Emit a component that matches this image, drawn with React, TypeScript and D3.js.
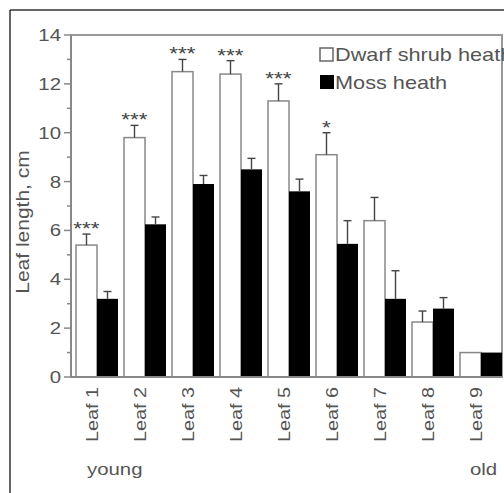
import React from "react";
import * as d3 from "d3";

const categories = ["Leaf 1", "Leaf 2", "Leaf 3", "Leaf 4", "Leaf 5", "Leaf 6", "Leaf 7", "Leaf 8", "Leaf 9"];
const dwarfValues = [5.4, 9.8, 12.5, 12.4, 11.3, 9.1, 6.4, 2.25, 1.0];
const dwarfErrors = [0.45, 0.5, 0.5, 0.55, 0.7, 0.9, 0.95, 0.45, 0];
const mossValues = [3.2, 6.25, 7.9, 8.5, 7.6, 5.45, 3.2, 2.8, 1.0];
const mossErrors = [0.3, 0.3, 0.35, 0.45, 0.5, 0.95, 1.15, 0.45, 0];
const stars = ["***", "***", "***", "***", "***", "*", "", "", ""];
const yTicks = [0, 2, 4, 6, 8, 10, 12, 14];
const yMinor = d3.range(0, 15);
const legendLabels = ["Dwarf shrub heath", "Moss heath"];

const TXT = "#555";
const FONT = "'Liberation Sans', Arial, sans-serif";
const SX = 1.2;

export default function App() {
  const W = 504, H = 493;
  const left = 71, right = 502, top = 35, bottom = 377;
  const y = d3.scaleLinear().domain([0, 14]).range([bottom, top]);
  const x = d3.scaleBand().domain(categories).range([73, 505]).paddingInner(0.125).paddingOuter(0.0625);
  const bw = x.bandwidth() / 2;

  const errBar = (cx: number, v: number, e: number, key: string) => {
    if (e <= 0) return null;
    return (
      <g key={key} stroke="#444" strokeWidth={1.4}>
        <line x1={cx} x2={cx} y1={y(v)} y2={y(v + e)} />
        <line x1={cx - 4} x2={cx + 4} y1={y(v + e)} y2={y(v + e)} />
      </g>
    );
  };

  return (
    <svg width={W} height={H} style={{ position: "absolute", left: 0, top: 0, background: "#fff" }} fontFamily={FONT}>
      {/* outer frame */}
      <line x1={10} x2={W} y1={10} y2={10} stroke="#333" strokeWidth={1.5} />
      <line x1={10} x2={10} y1={10} y2={H} stroke="#333" strokeWidth={1.5} />

      {/* plot frame */}
      <rect x={left} y={top} width={right - left} height={bottom - top} fill="none" stroke="#999" strokeWidth={2} />

      {/* bars */}
      {categories.map((c, i) => {
        const x0 = x(c) as number;
        return (
          <g key={c}>
            <rect x={x0} y={y(dwarfValues[i])} width={bw} height={y(0) - y(dwarfValues[i])} fill="#fff" stroke="#888" strokeWidth={1.5} />
            <rect x={x0 + bw} y={y(mossValues[i])} width={bw} height={y(0) - y(mossValues[i])} fill="#000" />
            {errBar(x0 + bw / 2, dwarfValues[i], dwarfErrors[i], "d" + i)}
            {errBar(x0 + bw * 1.5, mossValues[i], mossErrors[i], "m" + i)}
            {stars[i] && (
              <text transform={`translate(${x0 + bw / 2},${y(dwarfValues[i] + dwarfErrors[i]) + 1}) scale(1.25,1)`} textAnchor="middle" fontSize={18} fill="#444">
                {stars[i]}
              </text>
            )}
          </g>
        );
      })}

      {/* y axis */}
      <line x1={left} x2={left} y1={top} y2={bottom} stroke="#888" strokeWidth={2} />
      <line x1={left} x2={right} y1={bottom} y2={bottom} stroke="#888" strokeWidth={2} />
      {yMinor.map((t) => (
        <line key={"mn" + t} x1={t % 2 === 0 ? 64 : 67} x2={left} y1={y(t)} y2={y(t)} stroke="#888" strokeWidth={1.5} />
      ))}
      {yTicks.map((t) => (
        <text key={"yt" + t} transform={`translate(61,${y(t) + 6}) scale(${SX},1)`} textAnchor="end" fontSize={17} fill={TXT}>
          {t}
        </text>
      ))}
      <text transform={`translate(29,222) rotate(-90) scale(${SX},1)`} textAnchor="middle" fontSize={17.5} fill={TXT}>
        Leaf length, cm
      </text>

      {/* x labels */}
      {categories.map((c) => (
        <text key={"xl" + c} transform={`translate(${(x(c) as number) + bw + 1},387) rotate(-90) scale(${SX},1)`} textAnchor="end" fontSize={16.5} fill={TXT}>
          {c}
        </text>
      ))}
      <text transform={`translate(87,475) scale(${SX},1)`} fontSize={17} fill={TXT}>young</text>
      <text transform={`translate(470,475) scale(${SX},1)`} fontSize={17} fill={TXT}>old</text>

      {/* legend */}
      <rect x={320} y={48} width={13} height={13} fill="#fff" stroke="#666" strokeWidth={1.5} />
      <text transform={`translate(335,61) scale(1.24,1)`} fontSize={17.5} fill={TXT}>{legendLabels[0]}</text>
      <rect x={320} y={75} width={14} height={14} fill="#000" />
      <text transform={`translate(335,89) scale(1.24,1)`} fontSize={17.5} fill={TXT}>{legendLabels[1]}</text>
    </svg>
  );
}
